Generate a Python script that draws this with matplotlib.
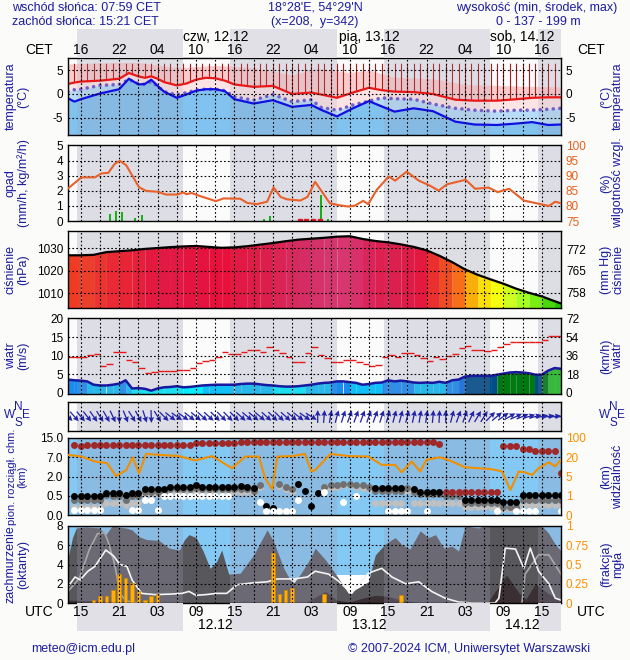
import numpy as np
import matplotlib.pyplot as plt
from matplotlib.colors import LinearSegmentedColormap
from matplotlib.transforms import Bbox, TransformedBbox

plt.rcParams['font.family'] = ['Liberation Sans', 'DejaVu Sans']
plt.rcParams['axes.unicode_minus'] = False

# ------------------------------------------------------------------
# data, time in hours since 11.12 00 UTC
# ------------------------------------------------------------------
T0, T1 = 13, 90
night = [(14.35, 30.98), (38.35, 54.98), (62.35, 78.98), (86.35, 90)]
grid_hours = np.arange(15, 90, 3)
label_hours = np.arange(15, 90, 6)
utc_labels = ['15', '21', '03', '09', '15', '21', '03', '09', '15', '21', '03', '09', '15']
cet_labels = ['16', '22', '04', '10', '16', '22', '04', '10', '16', '22', '04', '10', '16']
date_hours = [36, 60, 84]
top_dates = ['czw, 12.12', 'pią, 13.12', 'sob, 14.12']
bottom_dates = ['12.12', '13.12', '14.12']

# temperature (C)
temp_t = [13, 14, 15, 18, 21, 22.5, 24, 25, 26, 27, 28, 30, 31.5, 33, 34.5, 36, 37.5, 39, 42, 45,
          48, 51, 52.5, 55, 57.5, 60, 62, 64, 67, 70, 73.5, 76.5, 80, 83, 85.5, 88, 90]
temp_red = [2.1, 2.4, 2.6, 2.8, 3.2, 4.4, 3.7, 3.4, 3.7, 3.2, 2.5, 1.8, 2.2, 3.0, 3.4, 3.3, 2.8, 2.0, 1.5, 1.7,
            0.0, 0.3, -0.1, -0.8, 0.3, 1.3, 0.8, 0.5, 0.4, 0.0, -1.2, -1.4, -1.4, -1.1, -0.8, -0.7, -0.7]
temp_blue = [-0.9, -1.6, -1.1, 0.1, 1.0, 3.2, 2.0, 2.1, 3.0, 1.7, 0.5, -0.8, -0.1, 0.7, 1.0, 1.0, 0.6, -1.1, -2.0, -1.3,
             -2.7, -2.3, -3.3, -4.7, -3.0, -1.5, -2.6, -3.7, -3.0, -3.6, -5.8, -6.4, -6.5, -6.2, -5.9, -6.5, -6.4]
temp_dots = [0.5, 0.9, 1.0, 1.8, 2.0, 3.0, 2.2, 2.0, 2.6, 1.6, 0.5, -0.2, 0.3, 0.8, 1.0, 1.0, 0.7, -0.6, -1.3, -0.1,
             -1.6, -1.2, -2.8, -3.4, -2.3, -1.5, -0.8, -1.0, -1.1, -2.1, -3.0, -3.4, -3.6, -3.4, -3.4, -3.2, -3.0]
pink_t = [13, 20, 24, 30, 36, 42, 48, 52, 57, 60, 64, 70, 75, 80, 85, 90]
pink_top = [6.3, 6.6, 6.6, 5.5, 6.0, 5.5, 4.0, 5.4, 4.5, 5.0, 3.5, 3.2, 2.0, 1.8, 1.6, 1.5]
tick_hours = np.arange(14, 90)

# precipitation (mm/h) and relative humidity (%)
precip_t = [19.6, 20.5, 21.4, 23.5, 24.5, 43.6, 44.6, 52.5, 53.6]
precip = [0.45, 0.65, 0.6, 0.2, 0.4, 0.15, 0.3, 1.7, 0.13]
snow_t = [49.2, 50.2, 51.2, 52.3]
hum_t = [13, 15.1, 17.2, 18.2, 19.3, 20.3, 21.1, 22.1, 24.1, 25.2, 27, 28.3, 30.1, 31, 31.5, 32.3, 33.6, 36.1,
         37.3, 39.9, 41, 42.5, 44.1, 45.1, 46.2, 47.2, 49.3, 50.4, 51.6, 53.9, 55.2, 56.8, 57.8, 59.1, 59.9,
         61.2, 63.1, 64.1, 65.9, 67.8, 69.3, 70.9, 72.2, 75.1, 76.6, 78.7, 80.1, 81.9, 84.2, 85.5, 88.1, 89.1, 90]
hum = [85.8, 89.5, 89.5, 90.8, 91.0, 94.0, 95.0, 93.5, 86.2, 85.0, 84.7, 83.8, 83.8, 84.5, 83.9, 84.3, 83.3, 81.6,
       82.5, 82.4, 81.0, 80.6, 81.4, 86.2, 83.0, 82.2, 81.8, 83.0, 88.0, 80.9, 80.3, 79.8, 80.1, 81.7, 80.6,
       85.3, 89.8, 88.4, 91.4, 88.4, 87.0, 85.1, 87.2, 88.7, 85.7, 86.1, 84.6, 85.7, 81.8, 81.2, 80.0, 81.4, 80.9]

# pressure (hPa)
pres_t = [13, 15, 17, 19, 21, 23, 25, 27, 29, 31, 33, 35, 37, 39, 41, 43, 45, 47, 49, 51,
          53, 55, 57, 59, 61, 63, 65, 67, 69, 71, 73, 75, 77, 79, 81, 83, 85, 87, 89, 90]
pres = [1026.8, 1026.8, 1027.0, 1028.2, 1028.6, 1029.0, 1029.6, 1030.0, 1030.4, 1030.7,
        1030.9, 1030.5, 1030.1, 1030.3, 1030.8, 1031.5, 1032.2, 1033.0, 1033.7, 1034.1,
        1034.5, 1035.0, 1035.2, 1034.0, 1033.1, 1032.5, 1031.6, 1030.5, 1029.0, 1026.6,
        1023.8, 1020.6, 1018.2, 1016.2, 1014.3, 1012.1, 1010.3, 1008.7, 1006.6, 1005.6]

# wind (m/s), hourly 13..90, gusts hourly 13..89
wind_t = np.arange(13, 91)
wind_mean = [3.6, 3.4, 3.3, 3.1, 2.2, 2.0, 2.0, 2.2, 2.5, 3.4, 1.2, 1.3, 1.1, 0.6, 1.2, 1.5, 1.6, 1.8, 1.5, 1.6,
             1.8, 2.0, 2.1, 2.2, 2.2, 2.2, 2.2, 2.4, 2.5, 2.5, 2.3, 2.1, 2.0, 1.8, 1.7, 1.7, 1.8, 2.0, 2.2, 2.5,
             2.7, 2.8, 3.1, 3.1, 2.9, 2.7, 2.2, 2.4, 2.7, 2.8, 3.4, 3.1, 3.3, 3.1, 2.8, 2.7, 2.8, 2.7, 3.0, 2.7,
             3.4, 3.6, 4.4, 4.6, 4.6, 4.6, 4.6, 4.9, 5.2, 5.5, 5.6, 5.5, 5.3, 4.9, 4.9, 6.0, 6.7, 6.5]
gust_t = np.arange(13, 90)
gust = [9.6, 9.6, 9.8, 10.1, 10.4, 7.3, 7.8, 10.9, 10.9, 8.9, 8.2, 6.7, 5.3, 5.7, 6.0, 6.0, 6.0, 6.2, 6.2, 6.8,
        8.0, 8.6, 8.9, 9.8, 10.9, 10.5, 10.5, 11.0, 11.6, 11.7, 10.9, 12.5, 11.6, 10.7, 9.6, 8.4, 8.4, 10.7, 12.3, 10.2,
        9.3, 8.4, 8.4, 8.9, 8.9, 8.4, 7.8, 7.3, 7.6, 9.6, 10.1, 9.8, 10.7, 10.7, 10.2, 9.5, 8.7, 9.6, 9.1, 10.0,
        10.4, 12.0, 12.6, 11.6, 11.6, 11.2, 11.6, 12.3, 13.3, 13.6, 13.6, 13.6, 13.6, 13.6, 14.2, 15.3, 15.3]
# wind direction (deg, where the wind blows from), hourly 13..90
wind_from = [315, 318, 320, 322, 325, 328, 330, 335, 358, 338, 328, 332, 342, 358, 328, 315, 308, 305, 305, 308,
             310, 312, 312, 315, 315, 315, 315, 312, 310, 310, 310, 312, 315, 315, 312, 310, 308, 305, 302, 180,
             185, 190, 195, 198, 200, 200, 200, 200, 200, 198, 196, 195, 195, 195, 192, 190, 188, 185, 183, 180,
             195, 200, 200, 205, 210, 212, 225, 230, 235, 240, 245, 248, 252, 255, 258, 260, 262, 262]

# cloud base dots (km), hourly 14..90, and visibility (km)
nan = np.nan
cb_t = np.arange(14, 91)
cb_red = [12.2, 11.5, 12.2, 12.2, 12.2, 12.2, 12.2, 12.2, 12.2, 12.2,
          12.2, 12.2, 12.2, 12.2, 12.2, 12.2, 12.2, 12.2, 12.2, 12.8,
          12.8, 12.8, 12.8, 12.8, 12.8, 12.8, 13.5, 13.5, 13.5, 13.5,
          13.5, 13.5, 13.5, 13.5, 13.5, 13.5, 13.5, 13.5, 13.5, 13.5,
          13.5, 13.5, 13.5, 13.5, 13.5, 13.5, 13.5, 13.5, 13.5, 13.5,
          13.5, 13.5, 13.5, 13.5, 13.5, 13.5, 13.5, 12.6, nan, nan,
          nan, nan, nan, nan, nan, nan, nan, 11.8, 11.8, 11.8,
          10.4, 10.4, 9.8, 9.8, 9.8, 9.6, 3.0]
cb_black = [0.5, 0.5, 0.5, 0.5, 0.5, 0.74, 0.7, 0.74, 0.56, 0.74,
            0.7, 1.0, 1.0, 1.0, 1.0, 1.2, 1.2, 1.2, 1.2, 1.3,
            1.2, 1.2, 1.2, 1.2, 1.2, 1.2, 1.25, 1.2, 1.1, nan,
            0.23, 0.17, nan, nan, nan, 1.4, 0.89, 0.23, 0.74, nan,
            nan, nan, nan, nan, nan, nan, nan, 1.13, 1.13, 1.13,
            1.13, 1.13, nan, 1.0, 0.8, 0.8, 0.8, 0.8, nan, nan,
            nan, 0.4, 0.4, 0.4, 0.4, 0.4, 0.4, 0.35, 0.35, 0.35,
            0.56, 0.56, 0.56, 0.56, 0.56, 0.56, 0.56]
cb_dgray = [0.4, 0.4, 0.4, 0.4, 0.4, 0.55, 0.5, 0.5, 0.4, 0.5,
            0.5, 0.8, 0.8, 0.8, 0.8, 1.0, 1.0, 1.0, 1.0, 1.1,
            1.0, 1.0, 1.0, 1.0, 1.0, 1.0, 1.0, 1.0, 0.9, 1.3,
            nan, nan, 1.45, 1.2, 1.0, nan, nan, nan, nan, 1.2,
            1.3, 1.3, 1.4, 1.4, 1.3, 1.3, 1.2, 0.9, 0.9, 0.9,
            0.9, 0.9, 1.1, 0.8, 0.6, 0.6, 0.6, 0.6, 0.5, 0.5,
            0.5, 0.3, 0.3, 0.3, 0.3, 0.3, 0.3, 0.2, 0.2, 0.2,
            0.4, 0.4, 0.4, 0.4, 0.4, 0.4, 0.4]
cb_lgray = [0.2, 0.2, 0.2, 0.2, 0.2, 0.3, 0.3, 0.3, 0.25, 0.3,
            0.3, 0.6, 0.6, 0.6, 0.6, 0.8, 0.8, 0.8, 0.8, 0.9,
            0.8, 0.8, 0.9, 0.9, 0.8, 0.8, 0.8, 0.8, 0.7, 1.2,
            nan, nan, 1.25, 1.0, 0.8, nan, nan, nan, nan, 1.0,
            1.1, 1.2, 1.3, 1.3, 1.2, 1.1, 1.0, 0.3, 0.3, 0.3,
            0.3, 0.3, 0.9, 0.3, 0.3, 0.3, 0.3, 0.3, 0.3, 0.3,
            0.3, 0.2, 0.2, 0.2, 0.2, 0.2, 0.2, 0.15, 0.15, 0.15,
            0.25, 0.25, 0.25, 0.25, 0.25, 0.25, 0.25]
cb_white = [0.13, 0.13, 0.13, 0.13, 0.13, nan, nan, nan, nan, 0.13,
            0.13, 0.39, 0.39, 0.14, 0.5, 0.5, 0.5, 0.5, 0.5, 0.5,
            0.5, 0.5, 0.5, 0.5, 0.5, nan, nan, nan, nan, 0.35,
            0.1, 0.1, 0.1, 0.1, 0.1, 0.39, nan, nan, nan, 0.8,
            nan, nan, 0.35, nan, 0.5, nan, nan, nan, nan, 0.1,
            0.1, 0.1, 0.1, nan, nan, 0.1, nan, nan, nan, nan,
            nan, nan, nan, nan, nan, nan, 0.1, nan, nan, 0.1,
            0.1, 0.1, 0.1, nan, nan, nan, 0.1]
cb_low_t = [72, 73, 74, 75, 76, 77, 78, 79, 80]
cb_low = [0.8, 0.78, 0.76, 0.76, 0.76, 0.76, 0.76, 0.76, 0.76]
vis_t = [13, 15.1, 17.2, 19.1, 20.5, 22.1, 23.1, 24.1, 25.2, 27.2, 30.3, 32.9, 35.5, 38.6, 40.7,
         42.8, 43.8, 44.9, 45.7, 48.1, 50, 51, 51.6, 54, 56.8, 59.9, 62, 64.1, 65.1, 66.7,
         68, 69, 71.1, 73, 75, 79.2, 80.8, 82.1, 83.4, 84.4, 85.5, 86.5, 88.1, 89.1, 90]
vis = [30, 23, 16.7, 15.4, 5.4, 10, 20, 7.5, 34, 30, 25, 17.5, 25, 11.5, 23,
       23, 4.6, 2.4, 23, 25, 34, 8.9, 10, 34, 25, 23, 14, 14, 8.3, 16.7,
       8.9, 18, 20, 16.7, 12.2, 10.7, 8.9, 2.2, 8.9, 8.2, 6.2, 11.5, 16, 13, 18]

# cloudiness (oktas)
cl_t = [13, 13.7, 14.3, 15.8, 17.9, 18.9, 19.9, 22, 23, 24.1, 25.2, 27.2, 28.8, 30.4, 31.2, 31.9, 33, 34.1,
        35.2, 36.2, 37, 38.1, 39.9, 42, 44.1, 45.1, 46.7, 47.7, 48.3, 49.4, 50.9, 51.6, 53.2, 54.7, 56.8,
        58.4, 59.9, 61, 62.5, 64.1, 65.1, 66.4, 68, 69.3, 70.4, 71.7, 73, 74, 75, 77.1, 77.9, 87, 88, 89.1, 90]
cl_total = [4.7, 6.8, 7.8, 7.9, 7.8, 7.1, 8.0, 7.8, 7.6, 6.9, 6.6, 6.5, 5.7, 5.5, 6.6, 7.1, 6.8, 5.4,
            3.6, 4.3, 5.5, 3.0, 3.1, 5.0, 7.6, 6.4, 3.6, 2.4, 2.1, 3.1, 4.7, 5.7, 4.5, 3.1, 1.0,
            1.6, 2.2, 5.0, 6.1, 6.8, 6.1, 5.6, 7.5, 6.8, 7.1, 5.7, 5.9, 5.4, 8.0, 7.8, 8.0, 8.0, 7.3, 6.1, 5.4]
low_t = [13, 16, 19, 22, 24, 50, 51.6, 53.2, 55, 57, 59, 61, 63, 65, 67, 70, 78.5, 79.5, 81.5, 83.5, 84.5, 86, 88, 90]
low_cl = [0.3, 0.25, 0.2, 0.1, 0.0, 0.0, 0.6, 1.2, 0.3, 0.1, 0.5, 0.8, 0.7, 0.3, 0.1, 0.0, 0.0, 1.0, 2.9, 1.0,
          0.4, 2.0, 1.0, 0.3]
fog_spans = [(46.5, 50.0, 2.6), (54.3, 60.6, 2.9)]
wl_t = [13, 14.1, 14.9, 16.1, 17.2, 18.9, 20.1, 21.1, 22.2, 23, 24.5, 26.6, 29.2, 30.8, 31.9, 33, 34.5, 36.2,
        37.8, 39.4, 42, 44.1, 45.7, 48.3, 50.4, 51.6, 53.7, 55.2, 57.3, 59.9, 62, 63.6, 65.7, 67.8, 69.8,
        71.9, 74, 76.1, 79.7, 80.3, 81.3, 82.9, 84.2, 85.2, 86.5, 88.1, 89.1, 90]
wl = [1.7, 2.7, 2.4, 3.3, 3.8, 5.5, 4.9, 4.0, 3.8, 2.4, 1.0, 0.87, 0.93, 1.0, 1.2, 0.8, 0.87, 1.0,
      1.0, 1.9, 2.1, 2.2, 2.5, 2.5, 2.7, 3.3, 3.0, 2.3, 1.0, 3.1, 3.6, 2.7, 2.0, 2.2, 1.2,
      0.5, 0.1, 0.0, 0.0, 0.5, 5.7, 5.6, 3.6, 5.7, 3.3, 2.0, 0.5, 0.3]
gl_t = [13, 14.8, 16.3, 17.6, 18.7, 19.2, 20.3, 21.1, 22.1, 24, nan, 83.9, 84.4, 86.5, 88.1, 90]
gl = [1.2, 2.6, 5.5, 7.2, 7.3, 6.5, 4.0, 1.0, 0.2, 0.0, nan, 0.0, 3.0, 5.0, 5.0, 3.0]
bar_t = [17, 18, 19, 20, 21, 22, 23, 24, 25, 26, 27, 45, 46, 47, 48, 53, 65]
bar_v = [0.35, 0.7, 0.7, 1.4, 3.0, 2.6, 2.1, 1.2, 0.35, 0.7, 0.9, 5.2, 0.9, 1.3, 1.6, 0.9, 0.8]

# ------------------------------------------------------------------
# styling helpers
# ------------------------------------------------------------------
W, H = 630, 660
NAVY = '#1c1ca0'
ORANGE = '#ff9000'
DOT = (0, (1.5, 2))

fig = plt.figure(figsize=(W / 100, H / 100), dpi=100, facecolor='#fbfbf9')


def panel(top, bottom):
    return fig.add_axes([68 / W, 1 - bottom / H, 493 / W, (bottom - top) / H])


def dress(ax, ylim, hgrid=(), face='#fbfbfb', base='#ececf0', shade=0.18):
    ax.set_xlim(T0, T1)
    ax.set_ylim(*ylim)
    ax.set_facecolor(face)
    for a, b in night:
        if base:
            ax.axvspan(a, b, color=base, lw=0, zorder=0)
        ax.axvspan(a, b, color='#9a9ab4', alpha=shade, lw=0, zorder=2.5)
    for g in grid_hours:
        ax.axvline(g, color='black', lw=0.8, ls=DOT, zorder=6)
    for y in hgrid:
        ax.axhline(y, color='black', lw=0.8, ls=DOT, zorder=6)
    ax.set_xticks([])
    ax.tick_params(length=0, labelsize=8.5, pad=3.5)
    for s in ax.spines.values():
        s.set_linewidth(1.0)
        s.set_zorder(7)


def twin(ax, ylim, ticks, labels=None, color='black'):
    tw = ax.twinx()
    tw.set_ylim(*ylim)
    tw.set_yticks(ticks)
    if labels is not None:
        tw.set_yticklabels(labels)
    tw.tick_params(length=0, labelsize=8.5, pad=3.5, labelcolor=color)
    for s in tw.spines.values():
        s.set_visible(False)
    return tw


def side_labels(ax, left, right, left_size=9, clip=None):
    box = ax.get_position()
    yc = (box.y0 + box.y1) / 2
    kw = dict(rotation=90, ha='center', va='center', color=NAVY,
              multialignment='center', linespacing=1.05)
    lt = fig.text(17 / W, yc, left, fontsize=left_size, **kw)
    fig.text(612 / W, yc, right, fontsize=9, **kw)
    if clip:
        # the reference cuts this long label at the neighbouring panels
        lo_px, hi_px = clip
        cb = TransformedBbox(Bbox.from_extents(0, 1 - hi_px / H, 1, 1 - lo_px / H), fig.transFigure)
        lt.set_clip_box(cb)
        lt.set_clip_on(True)


# ---- temperature ----
ax_t = panel(58, 135)
dress(ax_t, (-8.6, 7.55), hgrid=(5, 0, -5))
ax_t.fill_between(pink_t, -9, pink_top, color='#f8cccc', lw=0, zorder=1)
ax_t.fill_between(temp_t, -9, temp_red, color='#fce4e4', lw=0, zorder=1.1)
ax_t.fill_between(temp_t, -9, temp_dots, color='#b8dbf7', lw=0, zorder=1.2)
ax_t.fill_between(temp_t, -9, temp_blue, color='#82c2ee', lw=0, zorder=1.3)
clip = ax_t.fill_between(temp_t, temp_red, 6.4, color='none', lw=0)
vl = ax_t.vlines(tick_hours, -9, 6.4, color='#b01818', lw=0.8, zorder=2)
vl.set_clip_path(clip.get_paths()[0], ax_t.transData)
ax_t.plot(temp_t, temp_dots, color='#7060c8', lw=2.6, ls=(0, (0.01, 1.8)),
          dash_capstyle='round', zorder=4)
ax_t.plot(temp_t, temp_red, color='#e81818', lw=1.6, zorder=4)
ax_t.plot(temp_t, temp_blue, color='#1010e0', lw=1.6, zorder=4)
ax_t.set_yticks([5, 0, -5])
ax_t.tick_params(labelright=True)
side_labels(ax_t, 'temperatura\n(°C)', '(°C)\ntemperatura')

# ---- precipitation / humidity ----
ax_p = panel(145, 221)
dress(ax_p, (0, 5.05), hgrid=(1, 2, 3, 4))
ax_p.vlines(precip_t, 0, precip, color='#10b010', lw=1.4, zorder=3)
ax_p.plot(snow_t, np.zeros(len(snow_t)), 's', color='#e02020', ms=2.5, zorder=4)
ax_p.set_yticks(range(6))
tw_p = twin(ax_p, (75, 100.25), range(75, 101, 5), color='#e8601c')
tw_p.plot(hum_t, hum, color='#e8602a', lw=1.5, zorder=4)
side_labels(ax_p, 'opad\n(mm/h, kg/m²/h)', '(%)\nwilgotność wzgl.')

# ---- pressure ----
pres_anchor = [(1005, '#00b800'), (1008, '#50e000'), (1011, '#a0ff20'), (1014, '#e0ff20'),
               (1016, '#ffff00'), (1018, '#ffd000'), (1020, '#ffa000'), (1022, '#ff7010'),
               (1024, '#f85010'), (1026.5, '#f04020'), (1028, '#f02828'), (1030, '#e8103a'),
               (1032, '#e01848'), (1034, '#d82860'), (1036, '#d84078')]
lo, hi = pres_anchor[0][0], pres_anchor[-1][0]
pres_cmap = LinearSegmentedColormap.from_list(
    'pres', [((p - lo) / (hi - lo), c) for p, c in pres_anchor])
ax_pr = panel(231, 308)
dress(ax_pr, (1003.6, 1037.5), hgrid=(1010, 1020, 1030), base='#e2e2e8', shade=0.06)
for i in range(len(pres_t) - 1):
    mid = (pres[i] + pres[i + 1]) / 2
    ax_pr.fill_between(pres_t[i:i + 2], 1000, pres[i:i + 2],
                       color=pres_cmap((mid - lo) / (hi - lo)), lw=0, zorder=1)
ax_pr.plot(pres_t, pres, color='black', lw=1.6, zorder=4)
ax_pr.set_yticks([1010, 1020, 1030])
twin(ax_pr, (1003.6 / 1.33322, 1037.5 / 1.33322), [758, 765, 772])
side_labels(ax_pr, 'ciśnienie\n(hPa)', '(mm Hg)\nciśnienie')

# ---- wind speed ----
wind_edges = [2.0, 2.9, 3.9, 4.3, 4.95, 6.0]
wind_colors = ['#00eeff', '#10c0f6', '#1a8cf0', '#1070e0', '#004c88', '#007a10', '#22c022']
ax_w = panel(318, 394)
dress(ax_w, (-0.3, 20.2), hgrid=(5, 10, 15))
for i in range(len(wind_t) - 1):
    mid = (wind_mean[i] + wind_mean[i + 1]) / 2
    ax_w.fill_between(wind_t[i:i + 2], -1, wind_mean[i:i + 2],
                      color=wind_colors[np.digitize(mid, wind_edges)], lw=0, zorder=1)
ax_w.plot(wind_t, wind_mean, color='#1818a0', lw=1.8, zorder=4)
ax_w.hlines(gust, gust_t, gust_t + 1, color='#e81818', lw=1.0, zorder=4)
ax_w.set_yticks([0, 5, 10, 15, 20])
twin(ax_w, (-0.3 * 3.6, 20.2 * 3.6), [0, 18, 36, 54, 72])
side_labels(ax_w, 'wiatr\n(m/s)', '(km/h)\nwiatr')

# ---- wind direction ----
ax_d = panel(402, 431)
dress(ax_d, (-1, 1))
ax_d.set_yticks([])
# arrow angle on screen (deg, counter-clockwise from east) = direction the wind blows to
arrow_angle = 270 - np.array(wind_from)
ax_d.quiver(wind_t, np.zeros(len(wind_t)), np.ones(len(wind_t)), np.zeros(len(wind_t)),
            angles=arrow_angle, pivot='middle', scale=7.8, scale_units='inches', width=0.0026,
            headwidth=4.5, headlength=4.5, headaxislength=4, color='#2424a8', zorder=4)
for x0 in (18, 613):
    for dx, dy, s in ((0, -8, 'N'), (-8, 0, 'W'), (8, 0, 'E'), (0, 8, 'S')):
        fig.text((x0 + dx) / W, 1 - (415 + dy) / H, s, ha='center', va='center',
                 color=NAVY, fontsize=8.5)

# ---- cloud base / visibility ----
cb_km = [0, 0.5, 2, 7, 15]
vis_km = [0, 1, 5, 20, 100]
steps = [0, 1, 2, 3, 4]
ax_c = panel(438, 515)
ax_c.set_yscale('function', functions=(lambda v: np.interp(v, cb_km, steps),
                                        lambda p: np.interp(p, steps, cb_km)))
dress(ax_c, (0, 15), hgrid=(0.5, 2, 7), face='#84c8f4', base=None, shade=0.28)
for vals, col in ((cb_lgray, '#c0c0c0'), (cb_dgray, '#707070'), (cb_black, '#000000'),
                  (cb_white, '#ffffff'), (cb_red, '#a02828')):
    ax_c.plot(cb_t, vals, 'o', color=col, ms=5, mec='none', zorder=4)
ax_c.plot(cb_low_t, cb_low, 'o', color='#a02828', ms=5, mec='none', zorder=4)
ax_c.set_yticks(cb_km)
ax_c.set_yticklabels(['0.0', '0.5', '2.0', '7.0', '15.0'])
tw_c = ax_c.twinx()
tw_c.set_yscale('function', functions=(lambda v: np.interp(v, vis_km, steps),
                                        lambda p: np.interp(p, steps, vis_km)))
tw_c.set_ylim(0, 100)
tw_c.set_yticks(vis_km)
tw_c.set_yticklabels(['0', '1', '5', '20', '100'])
tw_c.tick_params(length=0, labelsize=8.5, pad=3.5, labelcolor=ORANGE)
for s in tw_c.spines.values():
    s.set_visible(False)
tw_c.plot(vis_t, vis, color='#f09000', lw=1.5, zorder=5)
side_labels(ax_c, 'pion. rozciągł. chm.\n(km)', '(km)\nwidzialność', left_size=8, clip=(429, 527))

# ---- cloudiness ----
ax_n = panel(526, 603)
dress(ax_n, (0, 8), hgrid=(2, 4, 6), face='#84c8f4', base=None, shade=0.28)
for a, b, top in fog_spans:
    ax_n.fill_between([a, b], 0, top, color='white', lw=0, zorder=1)
ax_n.fill_between(cl_t, 0, cl_total, color='#58575c', lw=0, zorder=1.2)
ax_n.fill_between(low_t, 0, low_cl, color='#3a3034', lw=0, zorder=1.3)
ax_n.plot(gl_t, gl, color='#a8a8a8', lw=1.2, zorder=3)
ax_n.plot(wl_t, wl, color='#f4f4f4', lw=1.2, zorder=3)
ax_n.bar(bar_t, bar_v, width=0.55, color='#ffae0a', edgecolor='#d08800', lw=0.5, zorder=4)
ax_n.set_yticks([0, 2, 4, 6, 8])
twin(ax_n, (0, 1), [0, 0.25, 0.5, 0.75, 1], ['0', '0.25', '0.5', '0.75', '1'], color=ORANGE)
side_labels(ax_n, 'zachmurzenie\n(oktanty)', '(frakcja)\nmgła')

# ---- time strips (CET on top, UTC below) ----
for top, bottom, hour_y, date_y, hours, dates in ((29, 58, 0.28, 0.72, cet_labels, top_dates),
                                                  (603, 631, 0.68, 0.22, utc_labels, bottom_dates)):
    strip = fig.add_axes([68 / W, 1 - bottom / H, 493 / W, (bottom - top) / H])
    strip.set_xlim(T0, T1)
    strip.set_ylim(0, 1)
    strip.axis('off')
    for a, b in night:
        strip.axvspan(a, b, color='#e0e0e6', lw=0, zorder=0)
    for h, s in zip(label_hours, hours):
        strip.text(h, hour_y, s, ha='center', va='center', fontsize=10)
    for h, s in zip(date_hours, dates):
        strip.text(h, date_y, s, ha='center', va='center', fontsize=10)
    word = 'CET' if top < 100 else 'UTC'
    yy = 1 - (top + (1 - hour_y) * (bottom - top)) / H
    fig.text(39 / W, yy, word, ha='center', va='center', fontsize=10)
    fig.text(591 / W, yy, word, ha='center', va='center', fontsize=10)

# ---- header and footer ----
hdr = dict(color=NAVY, fontsize=9, va='center')
fig.text(12 / W, 1 - 8 / H, 'wschód słońca: 07:59 CET', ha='left', **hdr)
fig.text(12 / W, 1 - 22 / H, 'zachód słońca: 15:21 CET', ha='left', **hdr)
fig.text(315 / W, 1 - 8 / H, "18°28'E, 54°29'N", ha='center', **hdr)
fig.text(315 / W, 1 - 22 / H, '(x=208,  y=342)', ha='center', **hdr)
fig.text(617 / W, 1 - 8 / H, 'wysokość (min, środek, max)', ha='right', **hdr)
fig.text(538 / W, 1 - 22 / H, '0 - 137 - 199 m', ha='center', **hdr)
fig.text(83 / W, 1 - 649 / H, 'meteo@icm.edu.pl', ha='center', **hdr)
fig.text(469 / W, 1 - 649 / H, '© 2007-2024 ICM, Uniwersytet Warszawski', ha='center', **hdr)

fig.savefig('out.png', dpi=100, facecolor=fig.get_facecolor())
